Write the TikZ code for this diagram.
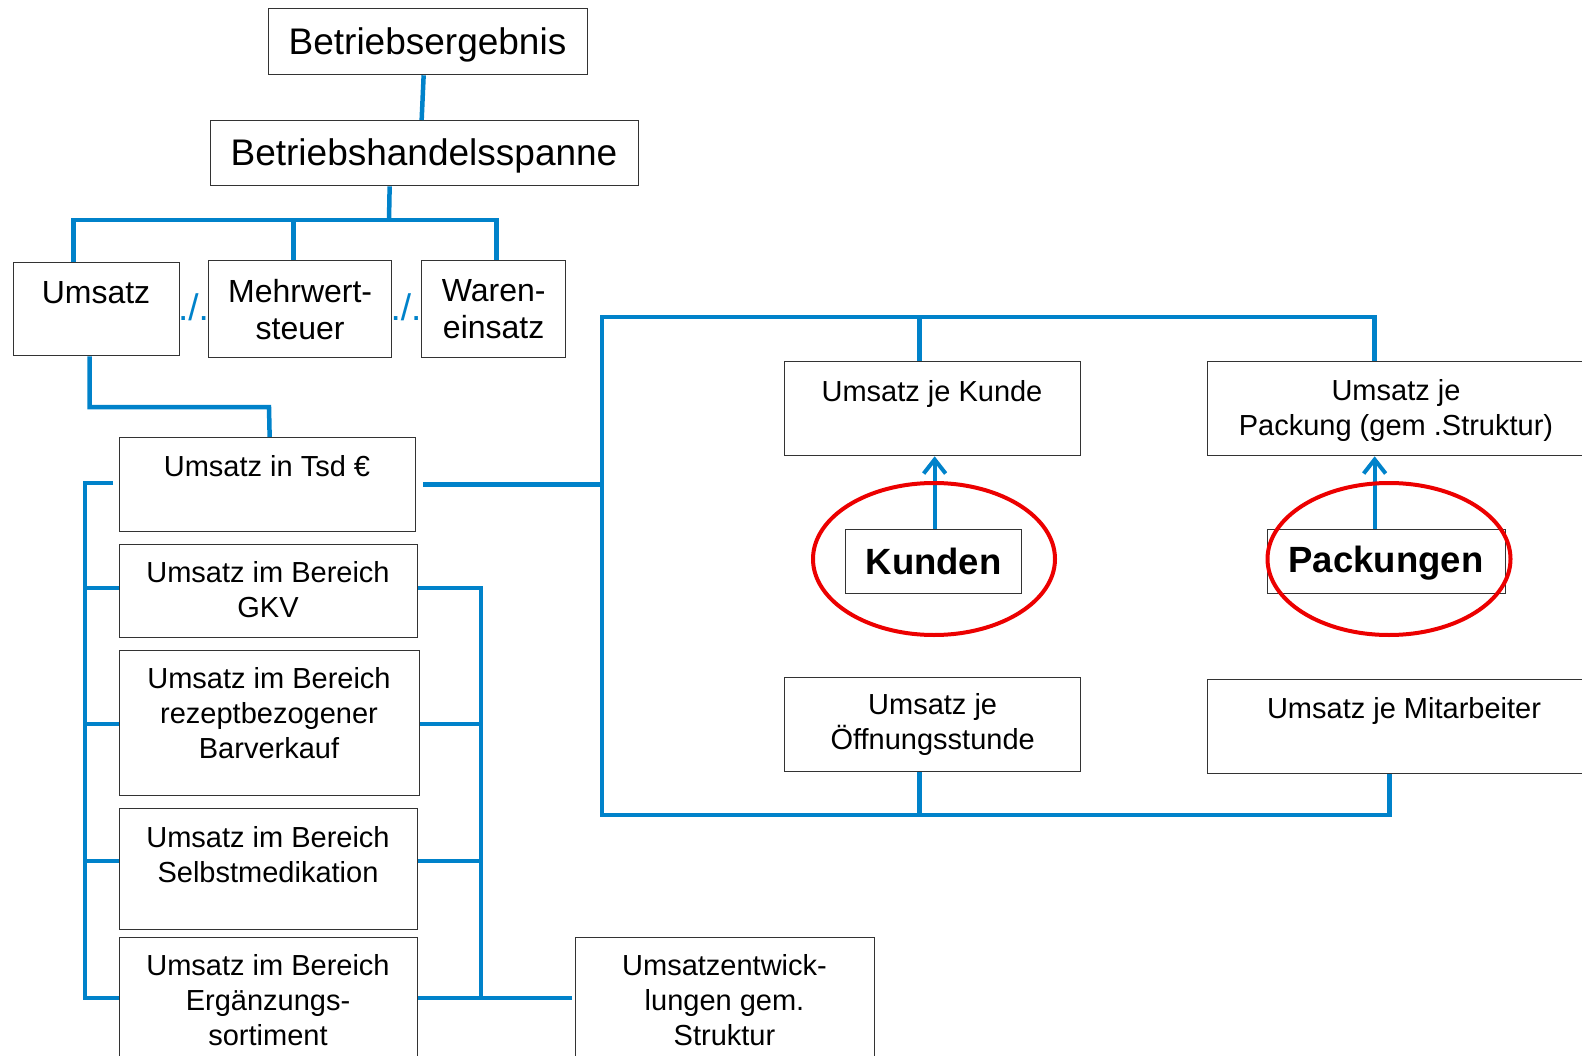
\documentclass[tikz,border=0pt]{standalone}
\usepackage{fontspec}
\setmainfont{Liberation Sans}
\usetikzlibrary{shapes.geometric,arrows.meta,calc}
\definecolor{lineblue}{RGB}{0,130,202}
\definecolor{ringred}{RGB}{236,0,0}
\begin{document}
\begin{tikzpicture}[x=1pt,y=-1pt,
  box/.style={draw=black!80, line width=1.3pt, fill=white, inner sep=0pt, anchor=north west, align=center},
  conn/.style={draw=lineblue, line width=4.5pt, line join=miter},
  fA/.style={font=\fontsize{37}{42}\selectfont},
  fB/.style={font=\fontsize{32}{37}\selectfont},
  fC/.style={font=\fontsize{29}{35}\selectfont},
  fD/.style={font=\fontsize{36.5}{42}\selectfont\bfseries},
  txt/.style={align=center, inner sep=0pt, anchor=center},
  ring/.style={draw=ringred, line width=4pt, ellipse, inner sep=0pt},
  sepmark/.style={text=lineblue, inner sep=0pt, anchor=base, font=\fontsize{37}{40}\selectfont}
]
\useasboundingbox (0,0) rectangle (1582,1056);
\clip (0,0) rectangle (1582,1056);

% top
\node[box, minimum width=319, minimum height=66] (be) at (268,8) {};
\node[txt, fA] (bet) at (427.5,45) {Betriebsergebnis};
\node[box, minimum width=428, minimum height=65] (bhs) at (210,120) {};
\node[txt, fA] (bhst) at (424,156) {Betriebshandelsspanne};

% second row
\node[box, minimum width=166, minimum height=93] (um) at (13,262) {};
\node[txt, fB] (umt) at (96,293) {Umsatz};
\node[box, fB, minimum width=183, minimum height=97] (mw) at (208,260) {Mehrwert-\\steuer};
\node[box, fB, minimum width=144, minimum height=97] (wa) at (421,260) {Waren-\\einsatz};
\node[sepmark] (s1) at (193.5,321) {./.};
\node[sepmark] (s2) at (406,321) {./.};

% left column
\node[box, minimum width=296, minimum height=94] (uts) at (119,437) {};
\node[txt, fC] (utst) at (267,466) {Umsatz in Tsd €};
\node[box, minimum width=298, minimum height=93] (gkv) at (119,544) {};
\node[txt, fC] (gkvt) at (268,590) {Umsatz im Bereich\\GKV};
\node[box, minimum width=300, minimum height=145] (rez) at (119,650) {};
\node[txt, fC] (rezt) at (269,713) {Umsatz im Bereich\\rezeptbezogener\\Barverkauf};
\node[box, minimum width=298, minimum height=121] (sm) at (119,808) {};
\node[txt, fC] (smt) at (268,855) {Umsatz im Bereich\\Selbstmedikation};
\node[box, minimum width=298, minimum height=140] (erg) at (119,937) {};
\node[txt, fC] (ergt) at (268,1000.5) {Umsatz im Bereich\\Ergänzungs-\\sortiment};
\node[box, minimum width=299, minimum height=140] (uew) at (575,937) {};
\node[txt, fC] (uewt) at (724.5,1000.5) {Umsatzentwick-\\lungen gem.\\Struktur};

% right part
\node[box, minimum width=296, minimum height=94] (ujk) at (784,361) {};
\node[txt, fC] (ujkt) at (932,394) {Umsatz je Kunde};
\node[box, minimum width=378, minimum height=94] (ujp) at (1207,361) {};
\node[txt, fC] (ujpt) at (1396,411) {Umsatz je\\Packung (gem .Struktur)};
\node[box, fC, minimum width=296, minimum height=94] (ujo) at (784,677) {Umsatz je\\Öffnungsstunde};
\node[box, minimum width=378, minimum height=94] (ujm) at (1207,679) {};
\node[txt, fC] (ujmt) at (1404,711) {Umsatz je Mitarbeiter};
\node[box, fD, minimum width=176, minimum height=64] (kd) at (845,529) {Kunden};
\node[box, minimum width=238, minimum height=64] (pk) at (1267,529) {};
\node[txt, fD] (pkt) at (1386,563) {Packungen};

% connectors top
\draw[conn] ([xshift=-4.5]be.south) -- ([xshift=-3]bhs.north);
\coordinate (b1) at (389,220);
\draw[conn] ([xshift=-35]bhs.south) -- (b1);
\draw[conn] ([xshift=-23]um.north) |- (b1) -| ([xshift=3]wa.north);
\draw[conn] ([xshift=-6.5]mw.north) |- (b1);
\coordinate (c2) at (269,407);
\draw[conn] ([xshift=-7]um.south) |- (c2) -- ([xshift=2]uts.north);

% left bus
\coordinate (L1) at (85,483);
\coordinate (L2) at (85,588);
\coordinate (L3) at (85,724);
\coordinate (L4) at (85,861);
\coordinate (L5) at (85,998);
\draw[conn, shorten <=6pt] (L1 -| uts.west) -- (L1) -- (L5) -- (L5 -| erg.west);
\draw[conn] (L2) -- (L2 -| gkv.west);
\draw[conn] (L3) -- (L3 -| rez.west);
\draw[conn] (L4) -- (L4 -| sm.west);

% right bus
\coordinate (R1) at (481,588);
\coordinate (R2) at (481,724);
\coordinate (R3) at (481,861);
\coordinate (R4) at (481,998);
\draw[conn, shorten >=3pt] (R1 -| gkv.east) -- (R1) -- (R4) -- (R4 -| uew.west);
\draw[conn] (R2 -| rez.east) -- (R2);
\draw[conn] (R3 -| sm.east) -- (R3);
\draw[conn] (R4 -| erg.east) -- (R4);

% frame
\coordinate (F1) at (602,317);
\coordinate (F2) at (602,815);
\draw[conn] ([xshift=-22]ujp.north) |- (F1) -- (F2) -| ([xshift=-7]ujm.south);
\draw[conn] ([xshift=-13]ujk.north) |- (F1);
\draw[conn] ([xshift=-13]ujo.south) |- (F2);
\draw[conn, shorten <=7pt] (uts.east) -- (uts.east -| F1);

% arrows
\draw[conn, line width=4pt, -{Straight Barb[length=14pt,width=22pt]}] ([xshift=1]kd.north) -- ([xshift=2]ujk.south);
\draw[conn, line width=4pt, -{Straight Barb[length=14pt,width=22pt]}] ([xshift=-12]pk.north) -- ([xshift=-22]ujp.south);

% rings
\node[ring, minimum width=242, minimum height=152] (kdr) at (934,559) {};
\node[ring, minimum width=243, minimum height=152] (pkr) at (1389,559) {};
\end{tikzpicture}
\end{document}
